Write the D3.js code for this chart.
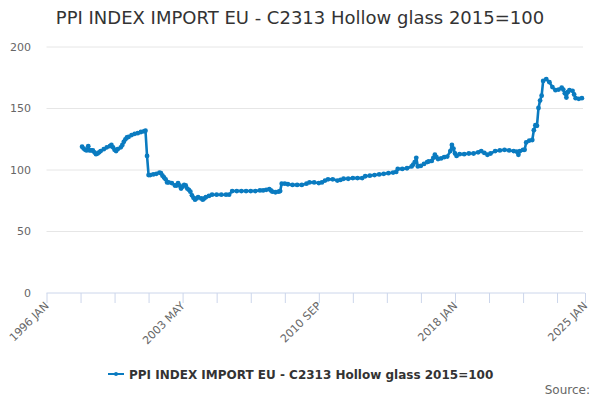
<!DOCTYPE html>
<html>
<head>
<meta charset="utf-8">
<script src="https://cdn.jsdelivr.net/npm/d3@7"></script>
<style>
  body { margin: 0; background: #fff; }
  svg { font-family: "DejaVu Sans", sans-serif; }
</style>
</head>
<body>
<svg id="chart" width="600" height="400"></svg>
<script>
const title = 'PPI INDEX IMPORT EU - C2313 Hollow glass 2015=100';

const months = [
  '1997-12','1998-01','1998-02','1998-03','1998-04','1998-05','1998-06','1998-07','1998-08','1998-09',
  '1998-10','1998-11','1998-12','1999-02','1999-04','1999-06','1999-07','1999-08','1999-09','1999-10',
  '1999-11','2000-01','2000-02','2000-03','2000-04','2000-05','2000-06','2000-08','2000-10','2000-12',
  '2001-02','2001-04','2001-05','2001-06','2001-07','2001-08','2001-10','2001-12','2002-02','2002-03',
  '2002-04','2002-05','2002-06','2002-07','2002-08','2002-10','2002-12','2003-01','2003-02','2003-03',
  '2003-04','2003-05','2003-06','2003-07','2003-08','2003-09','2003-10','2003-11','2003-12','2004-01',
  '2004-02','2004-03','2004-05','2004-06','2004-07','2004-08','2004-10','2004-12','2005-03','2005-06',
  '2005-09','2005-11','2006-01','2006-04','2006-07','2006-10','2007-01','2007-04','2007-07','2007-09',
  '2007-11','2008-01','2008-02','2008-03','2008-05','2008-07','2008-08','2008-09','2008-11','2009-01',
  '2009-04','2009-07','2009-10','2010-01','2010-03','2010-06','2010-09','2010-11','2011-01','2011-03',
  '2011-06','2011-09','2011-11','2012-01','2012-04','2012-07','2012-10','2013-01','2013-03','2013-06',
  '2013-09','2013-12','2014-03','2014-06','2014-09','2014-11','2014-12','2015-03','2015-06','2015-09',
  '2015-10','2015-11','2015-12','2016-01','2016-03','2016-05','2016-07','2016-08','2016-10','2016-11',
  '2016-12','2017-01','2017-02','2017-04','2017-06','2017-08','2017-10','2017-11','2017-12','2018-01',
  '2018-02','2018-04','2018-07','2018-10','2019-01','2019-04','2019-06','2019-08','2019-10','2019-12',
  '2020-03','2020-06','2020-09','2020-12','2021-03','2021-05','2021-06','2021-07','2021-09','2021-10',
  '2021-11','2022-01','2022-03','2022-04','2022-05','2022-06','2022-07','2022-08','2022-09','2022-10',
  '2022-12','2023-02','2023-04','2023-06','2023-08','2023-10','2023-11','2023-12','2024-01','2024-02',
  '2024-03','2024-05','2024-06','2024-07','2024-09','2024-11'
];

const values = [
  118.5, 117, 116, 115.5, 119, 115.5, 115.5, 115.5, 114, 112.5,
  113, 114, 115, 116.5, 118, 119, 120, 118, 116, 115,
  116.5, 118, 120, 122.5, 124.5, 126, 126.5, 128, 129, 129.5,
  130.5, 131, 131.5, 111, 95.5, 95.5, 96, 96.5, 97.5, 97,
  95, 93.5, 92, 89.5, 89.5, 89, 87, 87, 89, 87,
  84.5, 86, 87.5, 87, 84.5, 83.5, 82, 79, 77, 75.5,
  76.5, 77.5, 76.5, 75.5, 76.5, 77.5, 78.5, 79.5, 79.5, 79.5,
  79.5, 79.5, 82.5, 82.5, 82.5, 82.5, 82.5, 82.5, 83, 83,
  83.5, 84, 83, 82, 81.5, 82, 82.5, 88.5, 88.5, 88,
  87.5, 87.5, 87.5, 88.5, 89.5, 89.5, 89, 89.5, 91, 92,
  92, 91, 91.5, 92.5, 92.5, 93, 93, 93, 94.5, 95,
  95.5, 96, 96.5, 97, 97.5, 98, 100.5, 100.5, 101, 102.5,
  104, 106, 109.5, 102.5, 103, 104.5, 106, 106.5, 107, 109.5,
  112, 110, 108.5, 109, 110, 110.5, 115, 120, 117, 113,
  111, 112.5, 112.5, 113, 113, 114, 115, 113.5, 112, 113,
  115, 115.5, 116, 115.5, 115, 114.5, 112, 115, 116, 116,
  122, 123.5, 124, 132, 136, 135.5, 150, 156, 160, 172,
  173.5, 171, 167, 164.5, 165, 166.5, 165, 162, 158.5, 163,
  164.5, 164, 161, 158, 157.5, 158
];

const yTicks = [0, 50, 100, 150, 200];
const xTickStart = '1996-01';
const xTickEnd = '2025-01';
const tickStepMonths = 22;
const labelEvery = 4;

const color = '#0a7bc0';
const parse = d3.timeParse('%Y-%m');
const data = months.map((m, i) => ({date: parse(m), value: values[i]}));

const svg = d3.select('#chart');
const plotLeft = 46.5, plotRight = 585, plotTop = 46.5, plotBottom = 292.5;

const xscale = d3.scaleTime()
  .domain([parse(xTickStart), parse(xTickEnd)])
  .range([plotLeft, plotRight]);

const yscale = d3.scaleLinear()
  .domain([0, 200])
  .range([plotBottom, plotTop]);

// tick positions: every 22 months from Jan 1996, plus the end
const xTicks = [];
for (let d = parse(xTickStart); d < parse(xTickEnd); d = d3.timeMonth.offset(d, tickStepMonths)) {
  xTicks.push(d);
}
xTicks.push(parse(xTickEnd));
const fmt = d3.timeFormat('%Y %b');

svg.append('text')
  .text(title)
  .attr('x', 300)
  .attr('y', 24)
  .attr('text-anchor', 'middle')
  .style('font-size', '18px')
  .style('fill', '#333333');

// grid + y labels
const grid = svg.append('g');
grid.selectAll('line')
  .data(yTicks.filter(d => d > 0))
  .enter()
  .append('line')
  .attr('x1', plotLeft)
  .attr('x2', 583)
  .attr('y1', d => yscale(d) + 0.5)
  .attr('y2', d => yscale(d) + 0.5)
  .attr('stroke', '#e6e6e6');

grid.selectAll('text')
  .data(yTicks)
  .enter()
  .append('text')
  .text(d => d)
  .attr('x', 31)
  .attr('y', d => yscale(d) + 4)
  .attr('text-anchor', 'end')
  .style('font-size', '11px')
  .style('fill', '#666666');

// bottom axis
const bottomAxis = d3.axisBottom(xscale)
  .tickValues(xTicks)
  .tickSize(10)
  .tickFormat('');

const xg = svg.append('g')
  .attr('transform', `translate(0, ${plotBottom + 0.5})`)
  .call(bottomAxis);
xg.select('.domain').attr('stroke', '#ccd6eb').attr('d', `M${plotLeft},0H${plotRight}`);
xg.selectAll('.tick line').attr('stroke', '#ccd6eb');

svg.append('g')
  .selectAll('text')
  .data(xTicks.filter((d, i) => i % labelEvery === 0 || i === xTicks.length - 1))
  .enter()
  .append('text')
  .text(d => fmt(d).toUpperCase())
  .attr('transform', d => `translate(${xscale(d) + 3}, ${plotBottom + 14}) rotate(-45)`)
  .attr('text-anchor', 'end')
  .style('font-size', '11px')
  .style('fill', '#666666');

// series
const line = d3.line()
  .x(d => xscale(d.date))
  .y(d => yscale(d.value));

svg.append('path')
  .datum(data)
  .attr('d', line)
  .attr('fill', 'none')
  .attr('stroke', color)
  .attr('stroke-width', 2.6)
  .attr('stroke-linejoin', 'round');

svg.append('g')
  .selectAll('circle')
  .data(data)
  .enter()
  .append('circle')
  .attr('cx', d => xscale(d.date))
  .attr('cy', d => yscale(d.value))
  .attr('r', 2.4)
  .attr('fill', color);

// legend
const legend = svg.append('g').attr('transform', 'translate(108, 374)');
legend.append('line')
  .attr('x1', 0).attr('x2', 16)
  .attr('stroke', color)
  .attr('stroke-width', 2);
legend.append('circle')
  .attr('cx', 8).attr('r', 2)
  .attr('fill', color);
legend.append('text')
  .text(title)
  .attr('x', 21)
  .attr('y', 4.5)
  .style('font-size', '12px')
  .style('font-weight', 'bold')
  .style('fill', '#333333');

svg.append('text')
  .text('Source:')
  .attr('x', 590)
  .attr('y', 394)
  .attr('text-anchor', 'end')
  .style('font-size', '12px')
  .style('fill', '#666666');
</script>
</body>
</html>
